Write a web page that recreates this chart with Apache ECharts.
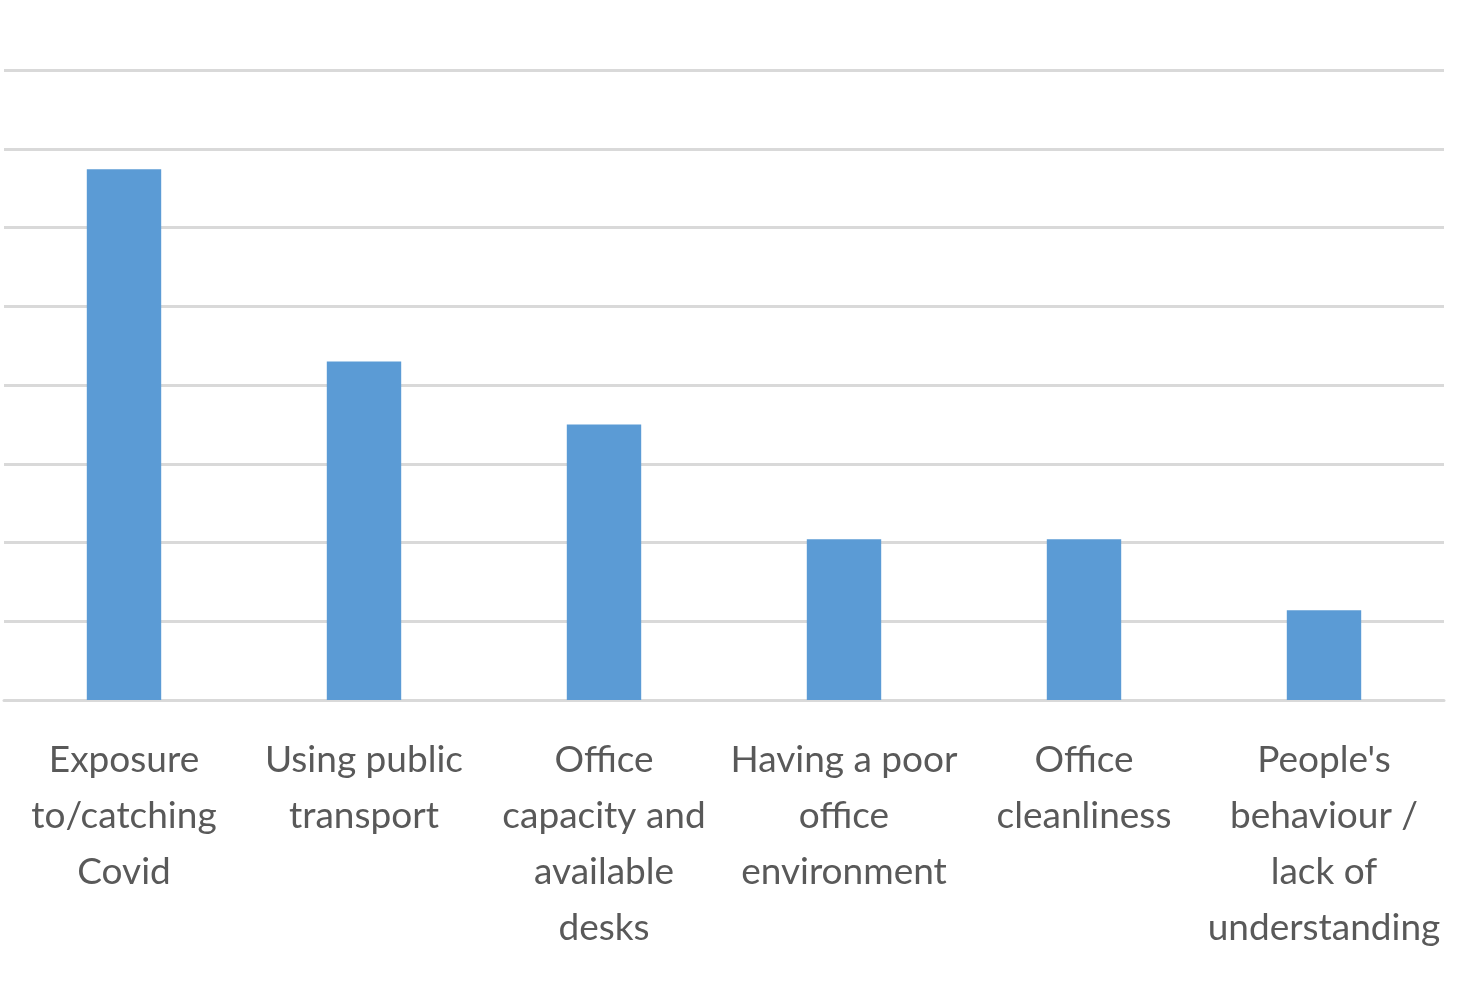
<!DOCTYPE html>
<html>
<head>
<meta charset="utf-8">
<script src="https://cdn.jsdelivr.net/npm/echarts@6/dist/echarts.min.js"></script>
<style>
html,body{margin:0;padding:0;background:#fff;}
#chart{width:1482px;height:988px;}
</style>
</head>
<body>
<div id="chart"></div>
<script>
const categories = [
  "Exposure\nto/catching\nCovid",
  "Using public\ntransport",
  "Office\ncapacity and\navailable\ndesks",
  "Having a poor\noffice\nenvironment",
  "Office\ncleanliness",
  "People's\nbehaviour /\nlack of\nunderstanding"
];
const values = [33.7, 21.5, 17.5, 10.2, 10.2, 5.7];

const chart = echarts.init(document.getElementById('chart'));
chart.setOption({
  animation: false,
  grid: { left: 4, right: 38, top: 70, bottom: 288, containLabel: false },
  xAxis: {
    type: 'category',
    data: categories,
    axisLine: { lineStyle: { color: '#d9d9d9', width: 3 } },
    axisTick: { show: false },
    axisLabel: {
      interval: 0,
      margin: 32,
      color: '#595959',
      fontFamily: 'Lato',
      fontSize: 37,
      lineHeight: 56
    }
  },
  yAxis: {
    type: 'value',
    min: 0,
    max: 40,
    interval: 5,
    axisLabel: { show: false },
    axisLine: { show: false },
    axisTick: { show: false },
    splitLine: { lineStyle: { color: '#d9d9d9', width: 3 } }
  },
  series: [{
    type: 'bar',
    data: values,
    barWidth: '31%',
    itemStyle: { color: '#5b9bd5' }
  }]
});
</script>
</body>
</html>
